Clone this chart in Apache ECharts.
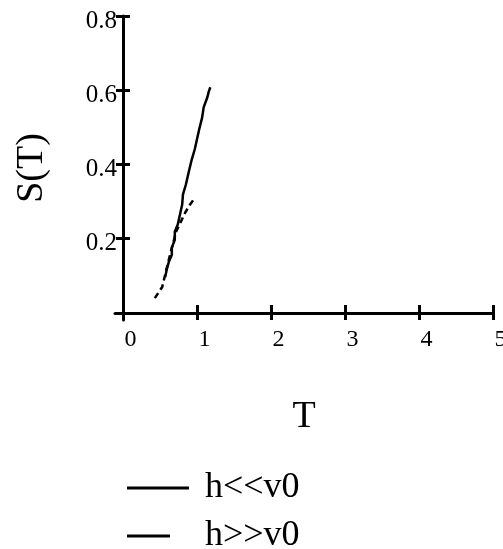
<!DOCTYPE html>
<html>
<head>
<meta charset="utf-8">
<script src="https://cdn.jsdelivr.net/npm/echarts@6/dist/echarts.min.js"></script>
<style>html,body{margin:0;padding:0;background:#fff}#c{width:503px;height:549px}</style>
</head>
<body>
<div id="c"></div>
<script>
const xTicks = [0, 1, 2, 3, 4, 5];
const yTicks = [0.2, 0.4, 0.6, 0.8];
const seriesNames = ['h<<v0', 'h>>v0'];
const solidX = [0.57, 0.59, 0.62, 0.66, 0.66, 0.70, 0.70, 0.74, 0.77, 0.80, 0.81, 0.85, 0.89, 0.93, 0.97, 1.00, 1.03, 1.07, 1.09, 1.14, 1.16, 1.18];
const solidY = [0.097, 0.116, 0.138, 0.157, 0.176, 0.197, 0.219, 0.238, 0.265, 0.292, 0.319, 0.346, 0.381, 0.414, 0.441, 0.468, 0.495, 0.527, 0.554, 0.581, 0.597, 0.608];
const dashX = [0.43, 0.53, 0.59, 0.64, 0.68, 0.72, 0.78, 0.84, 0.90, 0.97];
const dashY = [0.04, 0.07, 0.12, 0.16, 0.19, 0.22, 0.245, 0.27, 0.29, 0.31];

const font = '"Liberation Serif", "Times New Roman", serif';
const pair = (xs, ys) => xs.map((x, i) => [x, ys[i]]);

const baseX = {
  type: 'value', min: -0.108, max: 5, gridIndex: 0, position: 'bottom',
  splitLine: { show: false },
  axisLine: { onZero: true, lineStyle: { color: '#000', width: 3 } }
};
const baseY = {
  type: 'value', min: -0.019, max: 0.8, gridIndex: 0, position: 'left',
  splitLine: { show: false },
  axisLine: { onZero: true, lineStyle: { color: '#000', width: 3 } }
};

const chart = echarts.init(document.getElementById('c'), null, { renderer: 'canvas' });
chart.setOption({
  animation: false,
  backgroundColor: '#fff',
  grid: { left: 115, right: 10, top: 16, bottom: 229, outerBoundsMode: 'none', containLabel: false },
  xAxis: [
    Object.assign({}, baseX, {
      name: 'T', nameLocation: 'middle', nameGap: 97,
      nameTextStyle: { fontFamily: font, fontSize: 38, color: '#000', verticalAlign: 'middle' },
      axisTick: { show: true, length: 7, customValues: xTicks, lineStyle: { color: '#000', width: 3 } },
      axisLabel: { customValues: xTicks, fontFamily: font, fontSize: 24, color: '#000', margin: 8, padding: [0, 0, 0, 15] }
    }),
    Object.assign({}, baseX, {
      axisLine: { show: true, onZero: true, lineStyle: { color: 'rgba(0,0,0,0)', width: 0 } },
      axisTick: { show: true, inside: true, length: 8, customValues: xTicks, lineStyle: { color: '#000', width: 3 } },
      axisLabel: { show: false, customValues: xTicks }
    })
  ],
  yAxis: [
    Object.assign({}, baseY, {
      name: 'S(T)', nameLocation: 'middle', nameGap: 83, nameRotate: 90,
      nameTextStyle: { fontFamily: font, fontSize: 38, color: '#000', verticalAlign: 'middle' },
      axisTick: { show: true, length: 7, customValues: yTicks, lineStyle: { color: '#000', width: 3 } },
      axisLabel: { customValues: yTicks, fontFamily: font, fontSize: 25, color: '#000', margin: -2, verticalAlign: 'top', lineHeight: 10 }
    }),
    Object.assign({}, baseY, {
      axisLine: { show: true, onZero: true, lineStyle: { color: 'rgba(0,0,0,0)', width: 0 } },
      axisTick: { show: true, inside: true, length: 7, customValues: yTicks, lineStyle: { color: '#000', width: 3 } },
      axisLabel: { show: false, customValues: yTicks }
    })
  ],
  legend: [
    { data: [seriesNames[0]], left: 122, top: 465, orient: 'vertical', icon: 'rect', itemWidth: 62, itemHeight: 3,
      textStyle: { fontFamily: font, fontSize: 36, color: '#000', padding: [0, 0, 0, 11] } },
    { data: [seriesNames[1]], left: 122, top: 513, orient: 'vertical', icon: 'rect', itemWidth: 43, itemHeight: 3,
      textStyle: { fontFamily: font, fontSize: 36, color: '#000', padding: [0, 0, 0, 30] } }
  ],
  series: [
    { name: seriesNames[0], type: 'line', xAxisIndex: 0, yAxisIndex: 0, data: pair(solidX, solidY),
      showSymbol: false, symbol: 'none', color: '#000', lineStyle: { color: '#000', width: 2.5 } },
    { name: seriesNames[1], type: 'line', xAxisIndex: 0, yAxisIndex: 0, data: pair(dashX, dashY),
      showSymbol: false, symbol: 'none', color: '#000', lineStyle: { color: '#000', width: 2.5, type: [6, 4] } }
  ]
});
</script>
</body>
</html>
